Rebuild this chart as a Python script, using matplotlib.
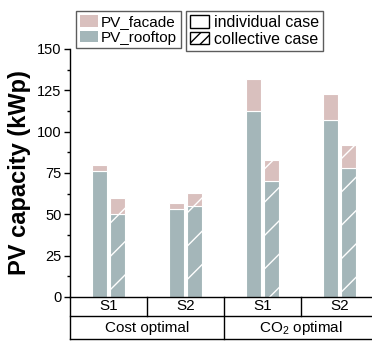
import numpy as np
import matplotlib.pyplot as plt
from matplotlib.patches import Patch
import matplotlib.transforms as mtransforms

plt.rcParams['font.family'] = ['Liberation Sans', 'DejaVu Sans']
plt.rcParams['mathtext.fontset'] = 'custom'
plt.rcParams['mathtext.rm'] = 'Liberation Sans'
plt.rcParams['mathtext.default'] = 'regular'

scenarios = ['S1', 'S2', 'S1', 'S2']
objectives = ['Cost optimal', 'CO$_2$ optimal']

# individual case
ind_rooftop = np.array([76, 53, 112.5, 107])
ind_facade = np.array([4, 4, 19.5, 16])
# collective case
col_rooftop = np.array([50.5, 55.3, 70, 78])
col_facade = np.array([9.5, 7.7, 13, 14])

c_roof = '#a4b6b9'
c_fac = '#d9c0be'

fig = plt.figure(figsize=(3.72, 3.41), dpi=100)
ax = fig.add_axes([70/372, 44/341, 308/372, 248/341])

x = np.arange(4) + 0.5
off = 0.123
w = 0.195

ax.bar(x - off, ind_rooftop, w, color=c_roof, edgecolor='white', lw=0.8)
ax.bar(x - off, ind_facade, w, bottom=ind_rooftop, color=c_fac,
       edgecolor='white', lw=0.8)
ax.bar(x + off, col_rooftop, w, color=c_roof, edgecolor='white', lw=0.8,
       hatch='/')
ax.bar(x + off, col_facade, w, bottom=col_rooftop, color=c_fac,
       edgecolor='white', lw=0.8, hatch='/')

ax.set_xlim(0, 4)
ax.set_ylim(0, 150)
ax.set_yticks(np.arange(0, 151, 25))
ax.set_yticks(np.arange(12.5, 150, 25), minor=True)
ax.set_xticks([])
ax.tick_params(axis='y', which='major', length=4, width=1, pad=2,
               labelsize=10.5)
ax.tick_params(axis='y', which='minor', length=2.5, width=1)
ax.spines['top'].set_visible(False)
ax.spines['right'].set_visible(False)
ax.spines['left'].set_linewidth(1)
ax.spines['bottom'].set_linewidth(1)
ax.set_ylabel('PV capacity (kWp)', fontsize=17, fontweight='bold',
              labelpad=4)

# table under the axis
tr = mtransforms.blended_transform_factory(ax.transData, ax.transAxes)
r1 = -0.0766
r2 = -0.171
kw = dict(color='black', lw=1, transform=tr, clip_on=False)
ax.plot([0, 4], [r1, r1], **kw)
ax.plot([0, 4], [r2, r2], **kw)
ax.plot([0, 0], [0, r2], **kw)
for xv in [1, 3]:
    ax.plot([xv, xv], [0, r1], **kw)
ax.plot([2, 2], [0, r2], **kw)
for xi, s in zip(x, scenarios):
    ax.text(xi, r1 / 2, s, transform=tr, ha='center', va='center',
            fontsize=11)
for i, o in enumerate(objectives):
    ax.text(2 * i + 1, (r1 + r2) / 2, o, transform=tr, ha='center',
            va='center', fontsize=11)

lkw = dict(loc='upper left', frameon=True, fancybox=False,
           edgecolor='#333333', borderpad=0.25, labelspacing=0.1,
           handlelength=1.2, handleheight=0.8,
           borderaxespad=0)
leg1 = fig.legend([Patch(facecolor=c_fac), Patch(facecolor=c_roof)],
                  ['PV_facade', 'PV_rooftop'], fontsize=11,
                  handletextpad=0.2,
                  bbox_to_anchor=(76/372, 1 - 11/341), **lkw)
leg1.get_frame().set_linewidth(1)
leg2 = fig.legend([Patch(facecolor='white', edgecolor='black'),
                   Patch(facecolor='white', edgecolor='black', hatch='///')],
                  ['individual case', 'collective case'], fontsize=11.5,
                  handletextpad=0.3,
                  bbox_to_anchor=(186/372, 1 - 11/341), **lkw)
leg2.get_frame().set_linewidth(1)

fig.savefig('out.png', dpi=100)
